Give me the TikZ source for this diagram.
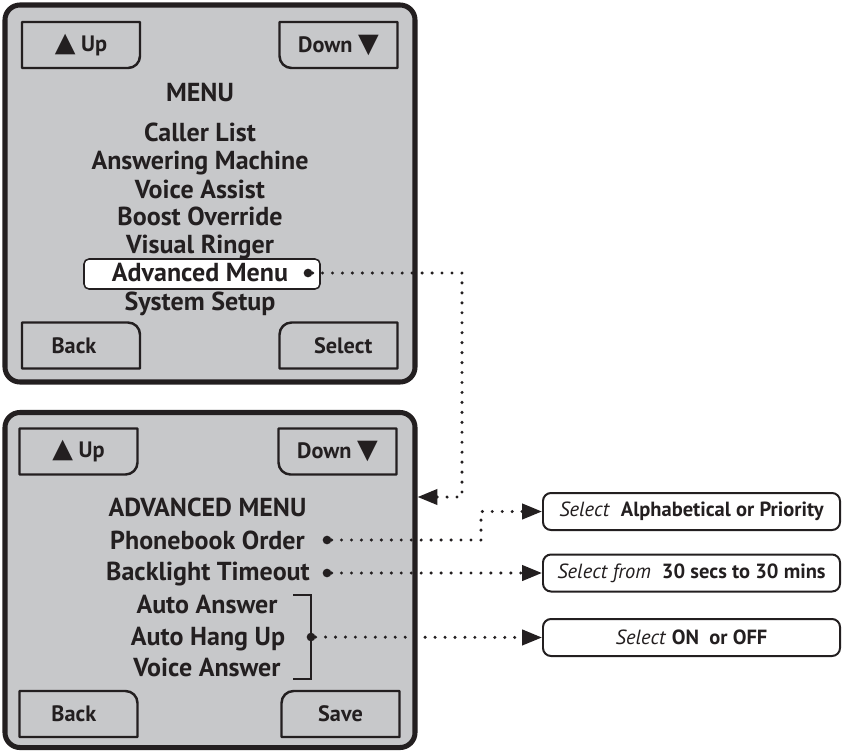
\documentclass[tikz,border=0pt]{standalone}
\usepackage{fontspec}
\setmainfont{PT Sans}
\newfontfamily\symfont{DejaVu Sans}
\usetikzlibrary{arrows.meta, calc}
\definecolor{ink}{HTML}{231F20}
\definecolor{lcd}{HTML}{C7C8CA}
\newcommand{\tri}[1]{{\symfont\fontsize{23pt}{23pt}\selectfont #1}}

\begin{document}
\begin{tikzpicture}[
    x = 0.03cm, y = -0.03cm,
    font = \bfseries\fontsize{22.2pt}{26pt}\selectfont,
    every node/.style = {text=ink},
    screen/.style  = {draw=ink, fill=lcd, line width=4.3pt, rounded corners=0.45cm, minimum width=12.3cm},
    btn/.style     = {minimum width=3.54cm, minimum height=1.38cm, inner sep=0pt, outer sep=0pt,
                      font=\bfseries\fontsize{19pt}{22pt}\selectfont},
    btnline/.style = {draw=ink, line width=2.1pt, line join=round},
    item/.style    = {inner sep=0pt, text height=15.5pt, text depth=0pt},
    pick/.style    = {draw=ink, fill=white, line width=1.3pt, rounded corners=0.15cm,
                      minimum width=7.08cm, minimum height=0.9cm},
    tapdot/.style  = {circle, fill=ink, inner sep=0pt, minimum size=0.26cm},
    clamp/.style   = {draw=ink, line width=2.1pt},
    opt/.style     = {draw=ink, fill=white, line width=1.7pt, rounded corners=0.24cm,
                      minimum width=8.91cm, minimum height=1.11cm, font=\fontsize{17.5pt}{20pt}\selectfont},
    link/.style    = {draw=ink, line width=2.9pt, line cap=round, dash pattern=on 0pt off 8.5pt,
                      -{Triangle[length=17pt, width=13pt]}}
    ]
    \useasboundingbox (0,0) rectangle (842,751);

    % top screen
    \node[screen, minimum height=11.31cm] (menu) at (210,193.5) {};
    \node[btn] (up1)  at (81,45)      {\tri{▲} Up};
    \node[btn] (dn1)  at (338.5,45)   {Down \tri{▼}};
    \node[btn] (bk1)  at (81,345.5)   {Back\hspace*{12pt}};
    \node[btn] (sel1) at (338.5,345.5) {\hspace*{8pt}Select};
    \draw[btnline] (up1.north west) -- (up1.north east) -- ([yshift=0.36cm]up1.south east)
        arc[start angle=0, end angle=-90, radius=0.36cm] -- (up1.south west) -- cycle;
    \draw[btnline] (dn1.north east) -- (dn1.north west) -- ([yshift=0.36cm]dn1.south west)
        arc[start angle=180, end angle=270, radius=0.36cm] -- (dn1.south east) -- cycle;
    \draw[btnline] (bk1.south west) -- (bk1.south east) -- ([yshift=-0.36cm]bk1.north east)
        arc[start angle=0, end angle=90, radius=0.36cm] -- (bk1.north west) -- cycle;
    \draw[btnline] (sel1.south east) -- (sel1.south west) -- ([yshift=-0.36cm]sel1.north west)
        arc[start angle=180, end angle=90, radius=0.36cm] -- (sel1.north east) -- cycle;

    \node[item] (mhead)  at (200,92)    {MENU};
    \node[item] (caller) at (200,132)   {Caller List};
    \node[item] (answm)  at (200,160.5) {Answering Machine};
    \node[item] (voice)  at (200,189)   {Voice Assist};
    \node[item] (boost)  at (200,216)   {Boost Override};
    \node[item] (visual) at (200,244.5) {Visual Ringer};
    \node[pick] (pick)   at (202,274)   {};
    \node[item] (advm)   at (200,272.5) {Advanced Menu};
    \node[tapdot] (advdot) at (308,273) {};
    \node[item] (setup)  at (200,301.5) {System Setup};

    % bottom screen
    \node[screen, minimum height=10.05cm] (adv) at (210,580) {};
    \node[btn] (up2)  at (78.5,451.5)  {\tri{▲} Up};
    \node[btn] (dn2)  at (337.5,451.5) {Down \tri{▼}};
    \node[btn] (bk2)  at (78.5,714)    {Back\hspace*{8pt}};
    \node[btn] (save2) at (340.5,714)  {Save};
    \draw[btnline] (up2.north west) -- (up2.north east) -- ([yshift=0.36cm]up2.south east)
        arc[start angle=0, end angle=-90, radius=0.36cm] -- (up2.south west) -- cycle;
    \draw[btnline] (dn2.north east) -- (dn2.north west) -- ([yshift=0.36cm]dn2.south west)
        arc[start angle=180, end angle=270, radius=0.36cm] -- (dn2.south east) -- cycle;
    \draw[btnline] (bk2.south west) -- (bk2.south east) -- ([yshift=-0.36cm]bk2.north east)
        arc[start angle=0, end angle=90, radius=0.36cm] -- (bk2.north west) -- cycle;
    \draw[btnline] (save2.south east) -- (save2.south west) -- ([yshift=-0.36cm]save2.north west)
        arc[start angle=180, end angle=90, radius=0.36cm] -- (save2.north east) -- cycle;

    \node[item] (ahead) at (207.5,507) {ADVANCED MENU};
    \node[item] (pbook) at (207.5,540) {Phonebook Order};
    \node[item] (blite) at (208,571)   {Backlight Timeout};
    \node[item] (aans)  at (207,604)   {Auto Answer};
    \node[item] (ahang) at (208,636)   {Auto Hang Up};
    \node[item] (vans)  at (207,667)   {Voice Answer};
    \node[tapdot] (pbdot) at (327,540) {};
    \node[tapdot] (btdot) at (327,573) {};
    \draw[clamp] (293,595) -| (311,679) -- (293,679);
    \node[tapdot] (hangdot) at (311,637) {};

    % choices
    \node[opt] (opt1) at (691.5,511.5) {\textit{Select}\ \ \textbf{Alphabetical or Priority}};
    \node[opt] (opt2) at (691.5,573)   {\textit{Select from}\ \ \textbf{30 secs to 30 mins}};
    \node[opt] (opt3) at (691.5,637.5) {\textit{Select} \textbf{ON\ \ or OFF}};

    \coordinate (bend1) at (462,273);
    \coordinate (bend2) at (462,497);
    \coordinate (bend3) at (481,511.5);
    \draw[link] (advdot) -- (bend1) -- (bend2) -- (bend2 -| adv.east);
    \draw[link] (pbdot) -| (bend3) -- (opt1.west);
    \draw[link] (btdot) -- (opt2.west);
    \draw[link] (hangdot) -- (opt3.west);
\end{tikzpicture}
\end{document}
